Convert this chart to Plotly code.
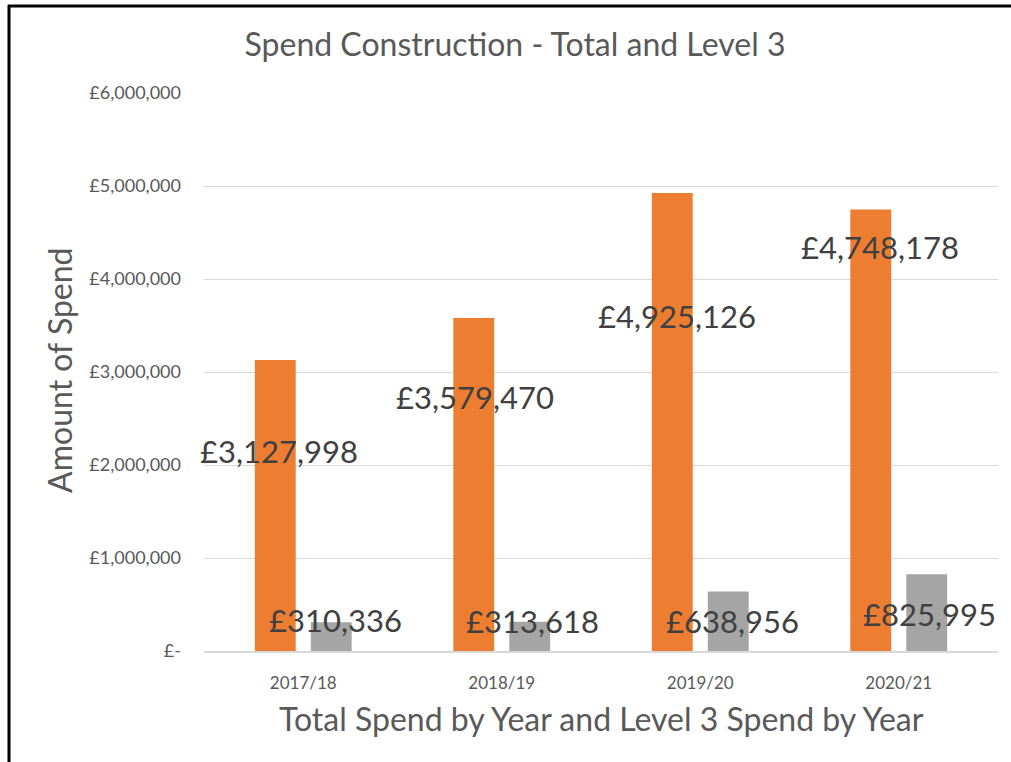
import plotly.graph_objects as go

# ---- data ----
years = ["2017/18", "2018/19", "2019/20", "2020/21"]
total_spend = [3127998, 3579470, 4925126, 4748178]
level3_spend = [310336, 313618, 638956, 825995]
y_tick_vals = [0, 1000000, 2000000, 3000000, 4000000, 5000000, 6000000]
y_tick_text = ["£-", "£1,000,000", "£2,000,000", "£3,000,000", "£4,000,000", "£5,000,000", "£6,000,000"]

# label placement (pixel offsets from bar top / category centre)
total_label_dx = [-24, -27, -23, -19]
total_label_dy = [-91, -79, -123, -38]
l3_label_dx = [32, 31, 32, 31]
l3_label_dy = [2, 1, -29, -40]

ORANGE = "#ED7D31"
GREY = "#A5A5A5"
FONT = "Lato"

def fmt(v):
    return "£{:,}".format(v)

fig = go.Figure()
fig.add_trace(go.Bar(x=years, y=total_spend, name="Total", marker=dict(color=ORANGE, line=dict(width=0))))
fig.add_trace(go.Bar(x=years, y=level3_spend, name="Level 3", marker=dict(color=GREY, line=dict(width=0))))

annotations = []
for i, yr in enumerate(years):
    annotations.append(dict(x=yr, y=total_spend[i], xref="x", yref="y", text=fmt(total_spend[i]),
                            showarrow=False, xshift=total_label_dx[i], yshift=total_label_dy[i],
                            font=dict(family=FONT, size=31, color="#404040"),
                            xanchor="center", yanchor="middle"))
    annotations.append(dict(x=yr, y=level3_spend[i], xref="x", yref="y", text=fmt(level3_spend[i]),
                            showarrow=False, xshift=l3_label_dx[i], yshift=l3_label_dy[i],
                            font=dict(family=FONT, size=31, color="#404040"),
                            xanchor="center", yanchor="middle"))

# axis titles
annotations.append(dict(x=(60 - 204) / 794, y=0.502, xref="paper", yref="paper", text="Amount of Spend",
                        textangle=-90, showarrow=False, font=dict(family=FONT, size=32, color="#595959"),
                        xanchor="center", yanchor="middle"))
annotations.append(dict(x=0.5, y=(651 - 718) / 558, xref="paper", yref="paper",
                        text="Total Spend by Year and Level 3 Spend by Year",
                        showarrow=False, font=dict(family=FONT, size=32, color="#595959"),
                        xanchor="center", yanchor="middle"))

shapes = [
    # frame lines (left and top)
    dict(type="line", xref="paper", yref="paper", x0=(9 - 204) / 794, x1=(9 - 204) / 794,
         y0=(651 - 5) / 558, y1=(651 - 770) / 558, line=dict(color="black", width=3)),
    dict(type="line", xref="paper", yref="paper", x0=(8 - 204) / 794, x1=(1020 - 204) / 794,
         y0=(651 - 6) / 558, y1=(651 - 6) / 558, line=dict(color="black", width=3)),
]

fig.update_layout(
    width=1011, height=762,
    margin=dict(l=204, r=13, t=93, b=111, autoexpand=False),
    paper_bgcolor="white", plot_bgcolor="white",
    showlegend=False,
    barmode="group", bargap=0.436, bargroupgap=0.27,
    title=dict(text="Spend Construction - Total and Level 3", x=515 / 1011, y=1 - 45 / 762,
               xref="container", yref="container", xanchor="center", yanchor="middle",
               font=dict(family=FONT, size=32, color="#595959")),
    font=dict(family=FONT, color="#595959"),
    annotations=annotations,
    shapes=shapes,
)
fig.update_yaxes(range=[0, 6000000], tickvals=y_tick_vals, ticktext=y_tick_text,
                 showgrid=True, gridcolor="#D9D9D9", gridwidth=1, zeroline=False,
                 showline=False, ticks="", ticklabelstandoff=22,
                 tickfont=dict(family=FONT, size=18, color="#595959"))
fig.update_xaxes(range=[-0.5, 3.5], showgrid=False, showline=True, linecolor="#D9D9D9", linewidth=2,
                 ticks="", ticklabelstandoff=16, tickfont=dict(family=FONT, size=17, color="#595959"))

fig.write_html("out.html", config={"displayModeBar": False},
               post_script="document.body.style.margin='0';document.body.style.overflow='hidden';")
